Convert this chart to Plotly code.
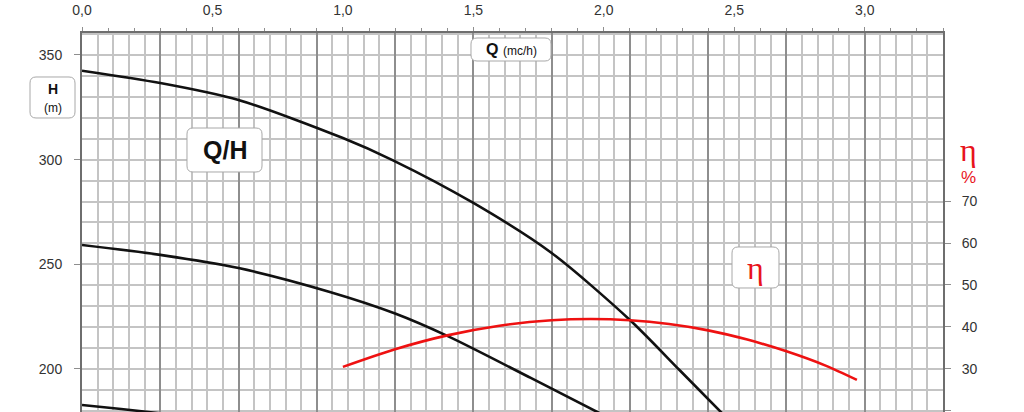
import plotly.graph_objects as go

# ---- data ----
q_curve1 = [0.0, 0.3, 0.6, 1.0, 1.19, 1.5, 1.8, 2.1, 2.29, 2.46]
h_curve1 = [342.5, 336.6, 328.5, 310.3, 299.8, 279.3, 255.4, 223.4, 199.5, 178.0]

q_curve2 = [0.0, 0.3, 0.6, 0.95, 1.2, 1.4, 1.72, 1.99]
h_curve2 = [259.2, 254.5, 248.2, 236.8, 226.5, 215.8, 195.7, 178.5]

q_curve3 = [0.0, 0.15, 0.3]
h_curve3 = [182.8, 180.9, 178.8]

q_eff = [1.0, 1.2, 1.4, 1.6, 1.8, 1.95, 2.1, 2.25, 2.4, 2.55, 2.7, 2.85, 2.97]
eff = [30.5, 34.7, 38.0, 40.3, 41.6, 41.9, 41.6, 40.7, 39.2, 37.0, 34.2, 30.8, 27.4]

x_tick_step = 0.5
x_grid_major = 0.3
x_grid_minor = 0.06
h_ticks = [200, 250, 300, 350]
eff_ticks = [20, 30, 40, 50, 60, 70]

# ---- layout geometry ----
W, HGT = 1024, 412
L, R, T, B = 82, 943, 33, 412
PW, PH = R - L, B - T


def px_x(p):
    return (p - L) / PW


def px_y(p):
    return (B - p) / PH


LIGHT = "#c4c4c4"
DARK = "#8e8e8e"
FRAME = "#6e6e6e"
TXT = "#333333"
RED = "#e8141c"
FONT = "Liberation Sans"

fig = go.Figure()
for q, h in [(q_curve1, h_curve1), (q_curve2, h_curve2), (q_curve3, h_curve3)]:
    fig.add_trace(go.Scatter(x=q, y=h, mode="lines", xaxis="x", yaxis="y",
                             line=dict(color="#111111", width=2.6, shape="spline", smoothing=0.8),
                             showlegend=False, hoverinfo="skip"))
fig.add_trace(go.Scatter(x=q_eff, y=eff, mode="lines", xaxis="x2", yaxis="y2",
                         line=dict(color="#ee1111", width=2.6, shape="spline", smoothing=0.8),
                         showlegend=False, hoverinfo="skip"))

xr = [0, 3.3]
yr = [179.44, 360.5]
y2r = [19.76, 110.0]

fig.update_layout(
    width=W, height=HGT,
    margin=dict(l=L, r=W - R, t=T, b=HGT - B, pad=0),
    paper_bgcolor="white", plot_bgcolor="white",
    separators=",.",
    font=dict(family=FONT, size=14, color=TXT),
    xaxis=dict(range=xr, side="top", tick0=0, dtick=x_tick_step, tickformat=".1f",
               ticks="outside", ticklen=4, tickcolor=DARK, ticklabelstandoff=6,
               minor=dict(dtick=0.1, ticks="outside", ticklen=3, tickcolor=DARK, showgrid=False),
               showgrid=False, zeroline=False, showline=True, linecolor=FRAME, linewidth=2,
               tickfont=dict(size=14, color=TXT, family=FONT)),
    xaxis2=dict(range=xr, overlaying="x", side="bottom", tick0=0, dtick=x_grid_major,
                showgrid=True, gridcolor=DARK, gridwidth=1.5,
                minor=dict(dtick=x_grid_minor, showgrid=True, gridcolor=LIGHT, gridwidth=1.5, ticks=""),
                showticklabels=False, ticks="", zeroline=False, showline=False),
    yaxis=dict(range=yr, tickvals=h_ticks, ticks="outside", ticklen=6, tickcolor=DARK,
               ticklabelstandoff=9, showgrid=True, gridcolor=LIGHT, gridwidth=1.5,
               minor=dict(dtick=10, showgrid=True, gridcolor=LIGHT, gridwidth=1.5, ticks=""),
               zeroline=False, showline=True, linecolor=FRAME, linewidth=2,
               tickfont=dict(size=14, color=TXT, family=FONT)),
    yaxis2=dict(range=y2r, overlaying="y", side="right", tickvals=eff_ticks,
                ticks="outside", ticklen=6, tickcolor=DARK, ticklabelstandoff=8,
                showgrid=False, zeroline=False, showline=True, linecolor=FRAME, linewidth=2,
                tickfont=dict(size=14, color=TXT, family=FONT)),
)


def rounded_path(x0, x1, y0, y1, r=6):
    X = lambda p: f"{px_x(p):.5f}"
    Y = lambda p: f"{px_y(p):.5f}"
    return (f"M {X(x0 + r)},{Y(y0)} L {X(x1 - r)},{Y(y0)} Q {X(x1)},{Y(y0)} {X(x1)},{Y(y0 + r)} "
            f"L {X(x1)},{Y(y1 - r)} Q {X(x1)},{Y(y1)} {X(x1 - r)},{Y(y1)} "
            f"L {X(x0 + r)},{Y(y1)} Q {X(x0)},{Y(y1)} {X(x0)},{Y(y1 - r)} "
            f"L {X(x0)},{Y(y0 + r)} Q {X(x0)},{Y(y0)} {X(x0 + r)},{Y(y0)} Z")


def box(text, x0, x1, y0, y1, size, color="#111111", family=FONT):
    fig.add_shape(type="path", xref="paper", yref="paper", path=rounded_path(x0, x1, y0, y1),
                  fillcolor="white", line=dict(color="#a8a8a8", width=1), layer="above")
    fig.add_annotation(xref="paper", yref="paper",
                       x=px_x((x0 + x1) / 2), y=px_y((y0 + y1) / 2),
                       xanchor="center", yanchor="middle",
                       text=text, showarrow=False,
                       align="center", valign="middle",
                       font=dict(size=size, color=color, family=family))


box("<b>H</b><br><span style='font-size:12px'>(m)</span>", 30, 75, 77, 118, 14)
box("<b>Q/H</b>", 187, 262, 128, 172, 25, family="Liberation Sans")
box("<b>Q</b> <span style='font-size:12px'>(mc/h)</span>", 471, 551, 38, 61, 16)
box("η", 732, 779, 247, 288, 32, color=RED, family="Liberation Serif")

fig.add_annotation(xref="paper", yref="paper", x=px_x(968), y=px_y(150),
                   xanchor="center", yanchor="middle", text="η", showarrow=False,
                   font=dict(size=32, color=RED, family="Liberation Serif"))
fig.add_annotation(xref="paper", yref="paper", x=px_x(968), y=px_y(177),
                   xanchor="center", yanchor="middle", text="%", showarrow=False,
                   font=dict(size=17, color=RED, family=FONT))

fig.write_html("out.html")
